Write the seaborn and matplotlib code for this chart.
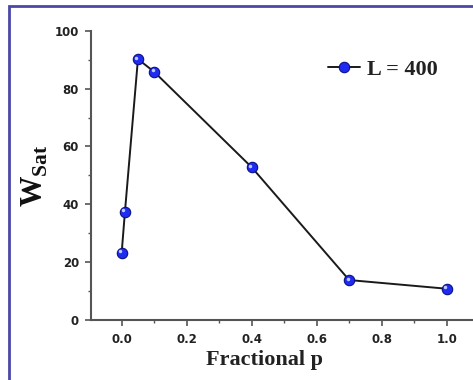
import matplotlib
matplotlib.use("Agg")
import matplotlib.pyplot as plt
import matplotlib.transforms as mtransforms
from matplotlib.patches import Rectangle
from matplotlib.ticker import MultipleLocator
import seaborn as sns
import pandas as pd

p_values = [0.0, 0.01, 0.05, 0.1, 0.4, 0.7, 1.0]
w_sat = [23.3, 37.4, 90.2, 85.8, 52.8, 13.8, 10.8]
series_label = "L = 400"
x_ticks = [0.0, 0.2, 0.4, 0.6, 0.8, 1.0]
y_ticks = [0, 20, 40, 60, 80, 100]

sns.set_style("ticks")
plt.rcParams["font.family"] = ["DejaVu Sans"]
plt.rcParams["mathtext.fontset"] = "custom"
plt.rcParams["mathtext.rm"] = "Liberation Serif:bold"
plt.rcParams["mathtext.bf"] = "Liberation Serif:bold"

df = pd.DataFrame({"p": p_values, "W": w_sat})

fig = plt.figure(figsize=(4.73, 3.8), dpi=100)
ax = fig.add_axes([0.192, 0.158, 0.808, 0.761])

sns.lineplot(data=df, x="p", y="W", ax=ax, color="#1a1a1a", linewidth=1.4,
             marker="o", markersize=7.5, markerfacecolor="#1f2bf0",
             markeredgecolor="#0a0f8a", markeredgewidth=0.8, label=series_label)
# specular highlight on the spheres
off = mtransforms.offset_copy(ax.transData, fig=fig, x=-1.1, y=1.1, units="points")
ax.plot(p_values, w_sat, linestyle="none", marker="o", markersize=2.5,
        markerfacecolor="#c0caff", markeredgewidth=0, transform=off)

ax.set_xlim(-0.095, 1.081)
ax.set_ylim(0, 100)
ax.set_xticks(x_ticks)
ax.set_yticks(y_ticks)
ax.xaxis.set_minor_locator(MultipleLocator(0.1))
ax.yaxis.set_minor_locator(MultipleLocator(10))
ax.set_xticklabels([f"{t:.1f}" for t in x_ticks])
ax.set_yticklabels([str(t) for t in y_ticks])
ax.tick_params(axis="both", which="major", direction="out", length=4, width=1.2,
               color="#555555", labelsize=8.5, labelcolor="#222222")
ax.tick_params(axis="x", which="major", pad=5.5)
ax.tick_params(axis="y", which="major", pad=4.5)
ax.tick_params(axis="both", which="minor", direction="out", length=2, width=1.0,
               color="#555555")
for lab in ax.get_xticklabels() + ax.get_yticklabels():
    lab.set_fontweight("bold")

sns.despine(ax=ax)
for s in ["left", "bottom"]:
    ax.spines[s].set_color("#555555")
    ax.spines[s].set_linewidth(1.5)

ax.set_xlabel("Fractional p", fontsize=16, fontweight="bold",
              family=["Liberation Serif", "DejaVu Serif"], color="#222222")
ax.xaxis.set_label_coords(0.455, -0.104)
ax.set_ylabel(r"$\mathbf{W}_{\mathbf{Sat}}$", fontsize=22, color="#111111")
ax.yaxis.set_label_coords(-0.107, 0.5)

leg = ax.legend(loc="center left", bbox_to_anchor=(0.62, 0.865), frameon=False,
                borderaxespad=0, borderpad=0,
                handlelength=1.45, handletextpad=0.3,
                prop={"family": "Liberation Serif", "weight": "bold", "size": 16})
for t in leg.get_texts():
    t.set_color("#222222")

fig.patches.append(Rectangle((0.018, -0.05), 1.1, 1.034, transform=fig.transFigure,
                             fill=False, edgecolor="#4a48a8", linewidth=2.0))

fig.savefig("out.png", dpi=100)
